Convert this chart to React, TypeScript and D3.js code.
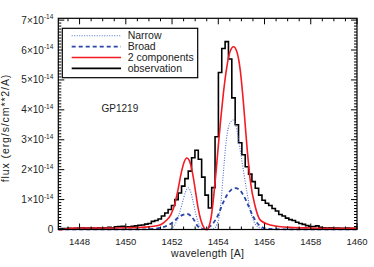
import * as d3 from "d3";
import { useEffect, useRef } from "react";

// observation: histogram bins, flux in units of 1e-14
const obsStart = 1447.045;
const obsBin = 0.145;
const obsFlux = [
  0.02, 0.03, 0.03, 0.04, 0.03, 0.04, 0.05, 0.06, 0.04, 0.05,
  0.05, 0.04, 0.06, 0.05, 0.06, 0.07, 0.06, 0.09, 0.1, 0.11,
  0.08, 0.09, 0.11, 0.12, 0.14, 0.15, 0.18, 0.2, 0.27, 0.3,
  0.35, 0.45, 0.55, 0.67, 0.8, 1.0, 1.22, 1.45, 1.7, 1.95,
  2.4, 2.65, 2.35, 1.75, 1.15, 0.72, 1.4, 3.1, 5.25, 6.05,
  6.28, 5.7, 4.4, 3.5, 2.9, 2.5, 2.1, 1.85, 1.6, 1.38,
  1.15, 0.98, 0.88, 0.8, 0.7, 0.62, 0.5, 0.45, 0.38, 0.33,
  0.3, 0.24, 0.2, 0.17, 0.13, 0.1, 0.1, 0.12, 0.07, 0.06,
  0.05, 0.06, 0.04, 0.05, 0.04, 0.04, 0.05, 0.04, 0.04, 0.04,
];

// 2-component fit
const totalWave = [
  1447.08, 1447.3, 1447.6, 1448.0, 1449.0, 1450.0, 1450.8, 1451.2, 1451.5, 1451.75,
  1451.95, 1452.1, 1452.25, 1452.4, 1452.52, 1452.64, 1452.75, 1452.87, 1453.0, 1453.12,
  1453.25, 1453.38, 1453.5, 1453.6, 1453.7, 1453.8, 1453.9, 1454.01, 1454.12, 1454.22,
  1454.37, 1454.51, 1454.66, 1454.8, 1454.95, 1455.09, 1455.24, 1455.38, 1455.6, 1455.81,
  1456.25, 1457.1, 1458.0, 1459.0, 1460.0,
];
const totalFlux = [
  -0.05, 0.0, 0.04, 0.05, 0.05, 0.06, 0.08, 0.11, 0.16, 0.3,
  0.5, 0.8, 1.3, 1.9, 2.25, 2.39, 2.3, 1.95, 1.35, 0.75,
  0.3, 0.06, -0.02, 0.1, 0.45, 1.1, 1.9, 2.88, 3.8, 4.55,
  5.44, 5.95, 6.11, 5.95, 5.33, 4.22, 2.77, 1.66, 0.76, 0.32,
  0.15, 0.07, 0.05, 0.04, 0.04,
];

const narrowWave = [
  1447.08, 1451.8, 1452.0, 1452.15, 1452.3, 1452.45, 1452.58, 1452.69, 1452.8, 1452.92,
  1453.05, 1453.2, 1453.35, 1453.5, 1453.8, 1454.0, 1454.12, 1454.22, 1454.35, 1454.5,
  1454.66, 1454.8, 1454.95, 1455.1, 1455.25, 1455.4, 1455.55, 1455.75, 1456.0, 1460.0,
];
const narrowFlux = [
  0.0, 0.0, 0.05, 0.2, 0.5, 0.9, 1.25, 1.39, 1.28, 0.9,
  0.45, 0.12, 0.02, 0.0, 0.03, 0.3, 0.95, 1.9, 3.0, 3.55,
  3.66, 3.35, 2.65, 1.9, 1.2, 0.6, 0.25, 0.07, 0.01, 0.0,
];

const broadWave = [
  1447.08, 1450.5, 1451.3, 1451.7, 1452.0, 1452.3, 1452.5, 1452.64, 1452.8, 1452.95,
  1453.1, 1453.25, 1453.4, 1453.55, 1453.75, 1454.0, 1454.2, 1454.4, 1454.6, 1454.75,
  1454.95, 1455.1, 1455.3, 1455.5, 1455.7, 1455.9, 1456.2, 1457.0, 1460.0,
];
const broadFlux = [
  0.0, 0.0, 0.03, 0.1, 0.22, 0.42, 0.5, 0.52, 0.46, 0.32,
  0.12, 0.03, 0.01, 0.05, 0.18, 0.5, 0.88, 1.18, 1.35, 1.38,
  1.3, 1.13, 0.8, 0.45, 0.2, 0.07, 0.02, 0.0, 0.0,
];

const xTicks = [1448, 1450, 1452, 1454, 1456, 1458, 1460];
const yTicks = [0, 1, 2, 3, 4, 5, 6, 7];
const legendLabels = ["Narrow", "Broad", "2 components", "observation"];

const WIDTH = 374;
const HEIGHT = 267;
const FONT = "'Liberation Sans', Arial, sans-serif";
const RED = "#f21c24";
const NARROW = "#4f6fd6";
const BROAD = "#2a44a8";

const App = () => {
  const svgRef = useRef<SVGSVGElement>(null);

  useEffect(() => {
    document.body.style.margin = "0";
    const svgEl = svgRef.current;
    if (!svgEl) return;
    const svg = d3.select(svgEl);
    svg.selectAll("*").remove();

    const margin = { top: 18.3, right: 17, bottom: 37.5, left: 58.3 };
    const iw = WIDTH - margin.left - margin.right;
    const ih = HEIGHT - margin.top - margin.bottom;

    const x = d3.scaleLinear().domain([1447.08, 1460]).range([0, iw]);
    const y = d3.scaleLinear().domain([0, 7.06]).range([ih, 0]);

    svg.append("rect").attr("width", WIDTH).attr("height", HEIGHT).attr("fill", "#fff");

    const g = svg
      .append("g")
      .attr("transform", `translate(${margin.left},${margin.top})`);

    g.append("clipPath")
      .attr("id", "plot-clip")
      .append("rect")
      .attr("width", iw)
      .attr("height", ih + 1);

    const plot = g.append("g").attr("clip-path", "url(#plot-clip)");

    // observation histogram
    const obsPts: [number, number][] = obsFlux.map((v, i) => [obsStart + i * obsBin, v]);
    obsPts.push([obsStart + obsFlux.length * obsBin, obsFlux[obsFlux.length - 1]]);
    const stepLine = d3
      .line<[number, number]>()
      .x((d) => x(d[0]))
      .y((d) => y(d[1]))
      .curve(d3.curveStepAfter);

    const smooth = d3
      .line<[number, number]>()
      .x((d) => x(d[0]))
      .y((d) => y(d[1]))
      .curve(d3.curveMonotoneX);

    const zip = (a: number[], b: number[]) =>
      a.map((w, i) => [w, b[i]] as [number, number]);

    plot.append("path")
      .attr("d", stepLine(obsPts))
      .attr("fill", "none")
      .attr("stroke", "#000")
      .attr("stroke-width", 1.6);

    plot.append("path")
      .attr("d", smooth(zip(narrowWave, narrowFlux)))
      .attr("fill", "none")
      .attr("stroke", NARROW)
      .attr("stroke-width", 1.1)
      .attr("stroke-dasharray", "1,1.5");

    plot.append("path")
      .attr("d", smooth(zip(broadWave, broadFlux)))
      .attr("fill", "none")
      .attr("stroke", BROAD)
      .attr("stroke-width", 1.8)
      .attr("stroke-dasharray", "4,3");

    plot.append("path")
      .attr("d", smooth(zip(totalWave, totalFlux)))
      .attr("fill", "none")
      .attr("stroke", RED)
      .attr("stroke-width", 1.6);

    // frame
    g.append("rect")
      .attr("width", iw)
      .attr("height", ih)
      .attr("fill", "none")
      .attr("stroke", "#000")
      .attr("stroke-width", 1.2);

    // ticks (inward on all four sides)
    const xMinor = d3.range(1447.5, 1460.01, 0.5).filter((t) => t % 2 !== 0);
    const yMinor = d3.range(0.1, 7.05, 0.1).filter((t) => Math.abs(t - Math.round(t)) > 1e-6);
    const tickG = g.append("g").attr("stroke", "#000").attr("stroke-width", 1);
    const addX = (vals: number[], len: number) => {
      vals.forEach((t) => {
        tickG.append("line").attr("x1", x(t)).attr("x2", x(t)).attr("y1", ih).attr("y2", ih - len);
        tickG.append("line").attr("x1", x(t)).attr("x2", x(t)).attr("y1", 0).attr("y2", len);
      });
    };
    const addY = (vals: number[], len: number) => {
      vals.forEach((t) => {
        tickG.append("line").attr("x1", 0).attr("x2", len).attr("y1", y(t)).attr("y2", y(t));
        tickG.append("line").attr("x1", iw).attr("x2", iw - len).attr("y1", y(t)).attr("y2", y(t));
      });
    };
    addX(xTicks, 6);
    addX(xMinor, 3);
    addY(yTicks, 6);
    addY(yMinor, 3);

    // x tick labels
    g.selectAll("text.tick-x")
      .data(xTicks)
      .enter()
      .append("text")
      .attr("x", (t) => x(t))
      .attr("y", ih + 15.5)
      .attr("text-anchor", "middle")
      .attr("fill", "#222")
      .style("font", `9.5px ${FONT}`)
      .text((t) => String(t));

    // y tick labels with 10^-14
    yTicks.forEach((t) => {
      const txt = g
        .append("text")
        .attr("x", -5)
        .attr("y", y(t) + 3.5)
        .attr("text-anchor", "end")
        .attr("fill", "#222")
        .style("font", `10px ${FONT}`);
      if (t === 0) {
        txt.text("0");
      } else {
        txt.append("tspan").text(`${t}×10`);
        txt.append("tspan").attr("dy", -4.5).style("font-size", "6.5px").text("-14");
      }
    });

    // axis titles
    svg.append("text")
      .attr("x", margin.left + iw / 2)
      .attr("y", 257)
      .attr("text-anchor", "middle")
      .attr("fill", "#222")
      .style("font", `10.5px ${FONT}`)
      .style("letter-spacing", "0.3px")
      .text("wavelength [A]");
    svg.append("text")
      .attr("transform", `translate(9,128) rotate(-90)`)
      .attr("text-anchor", "middle")
      .attr("fill", "#222")
      .style("font", `10.5px ${FONT}`)
      .style("letter-spacing", "0.9px")
      .text("flux (erg/s/cm**2/A)");

    // object label
    svg.append("text")
      .attr("x", 101.5)
      .attr("y", 111.5)
      .attr("fill", "#222")
      .style("font", `10px ${FONT}`)
      .text("GP1219");

    // legend
    const leg = svg.append("g");
    leg.append("rect")
      .attr("x", 62.3)
      .attr("y", 28.3)
      .attr("width", 135.4)
      .attr("height", 49.4)
      .attr("fill", "#fff")
      .attr("stroke", "#000")
      .attr("stroke-width", 1.2);
    const legStyles = [
      { color: NARROW, dash: "1,1.5", w: 1.1 },
      { color: BROAD, dash: "4,3", w: 1.8 },
      { color: RED, dash: null, w: 1.6 },
      { color: "#000", dash: null, w: 1.6 },
    ];
    legendLabels.forEach((label, i) => {
      const ly = 35.7 + i * 10.9;
      const s = legStyles[i];
      const ln = leg.append("line")
        .attr("x1", 71.7)
        .attr("x2", 121)
        .attr("y1", ly)
        .attr("y2", ly)
        .attr("stroke", s.color)
        .attr("stroke-width", s.w);
      if (s.dash) ln.attr("stroke-dasharray", s.dash);
      leg.append("text")
        .attr("x", 127.7)
        .attr("y", ly + 3.6)
        .attr("fill", "#222")
        .style("font", `10.5px ${FONT}`)
        .text(label);
    });
  }, []);

  return <svg ref={svgRef} width={WIDTH} height={HEIGHT} style={{ display: "block" }} />;
};

export default App;
